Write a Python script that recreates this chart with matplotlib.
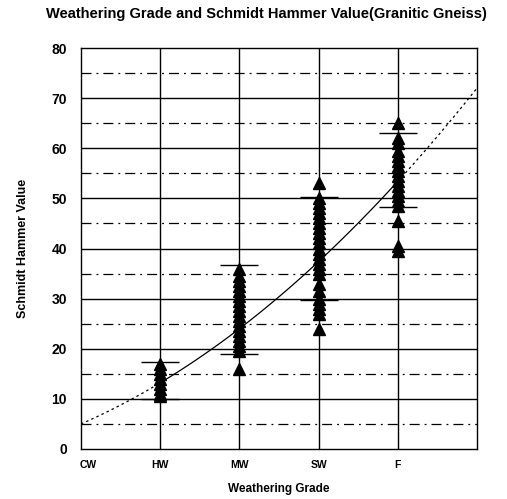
import matplotlib
matplotlib.use("Agg")
import matplotlib.pyplot as plt
import matplotlib.transforms as mtransforms
import numpy as np

plt.rcParams['font.family'] = ['Liberation Sans', 'DejaVu Sans']

# ---- data ----
categories = ["CW", "HW", "MW", "SW", "F"]
hw_values = [17, 16, 15, 14, 13, 12, 11, 10.5]
mw_values = [36, 34.5, 33.5, 32.5, 31.5, 30.5, 29.5, 28.5, 27.5, 26.5, 25.5,
             24.5, 23.5, 22.5, 21.5, 20.5, 19.5, 16]
sw_values = [53, 50, 49, 48, 47, 46, 45, 44, 43, 42, 41, 40, 39, 38, 37, 36,
             35, 33, 31.5, 30, 29, 28, 27, 24]
f_values = [65, 62, 61, 59.5, 58.5, 57.5, 56.5, 55.5, 54.5, 53.5, 52.5, 51.5,
            50.5, 49.5, 48.5, 45.5, 40.5, 39.5]
series_x = [1, 2, 3, 4]
band_upper = [17.3, 36.7, 50.2, 63.0]
band_lower = [10.0, 19.0, 29.8, 48.2]
trend_coef = [1.3, 6.9, 5.0]  # polynomial trendline (x^2, x, const)

fig = plt.figure(figsize=(5.07, 4.99), dpi=100)
ax = fig.add_axes([81/507, 1-449/499, (477-81)/507, (449-48)/499])

ax.set_xlim(0, 5)
ax.set_ylim(0, 80)

# grid
for v in range(10, 80, 10):
    ax.axhline(v, color='black', lw=1.0, zorder=1)
for v in range(5, 80, 10):
    ax.axhline(v, color='black', lw=0.9, ls=(0, (8, 4, 1.5, 4)), zorder=1)
for xv in series_x:
    ax.axvline(xv, color='black', lw=1.0, zorder=1)

# trend line
xs_solid = np.linspace(1, 4, 100)
xs_lo = np.linspace(0, 1, 30)
xs_hi = np.linspace(4, 5, 30)
ax.plot(xs_solid, np.polyval(trend_coef, xs_solid), color='black', lw=0.9, zorder=2)
ax.plot(xs_lo, np.polyval(trend_coef, xs_lo), color='black', lw=0.9, ls=(0, (2, 2.5)), zorder=2)
ax.plot(xs_hi, np.polyval(trend_coef, xs_hi), color='black', lw=0.9, ls=(0, (2, 2.5)), zorder=2)

# points
for xv, vals in zip(series_x, [hw_values, mw_values, sw_values, f_values]):
    ax.plot([xv]*len(vals), vals, ls='none', marker='^', color='black',
            markersize=8, zorder=3)

# range bars
for xv, up, lo in zip(series_x, band_upper, band_lower):
    ax.hlines([up, lo], xv - 0.24, xv + 0.24, color='black', lw=1.0, zorder=3)

ax.set_xticks(range(5))
ax.set_xticklabels(categories)
ax.set_yticks(range(0, 81, 10))
ax.tick_params(axis='both', length=0)
ax.tick_params(axis='y', pad=10, labelsize=10)
ax.tick_params(axis='x', pad=8, labelsize=7.5)
for lab in ax.get_xticklabels() + ax.get_yticklabels():
    lab.set_fontweight('bold')
# CW label sits slightly right of the spine in the reference
cw = ax.get_xticklabels()[0]
cw.set_transform(cw.get_transform() + mtransforms.ScaledTranslation(7/100, 0, fig.dpi_scale_trans))
for sp in ax.spines.values():
    sp.set_linewidth(1.0)

ax.set_xlabel("Weathering Grade", fontsize=8.5, fontweight='bold', labelpad=9)
ax.set_ylabel("Schmidt Hammer Value", fontsize=9, fontweight='bold', labelpad=16)

fig.text(266/507, 1-14/499, "Weathering Grade and Schmidt Hammer Value(Granitic Gneiss)",
         ha='center', va='center', fontsize=10.5, fontweight='bold')

fig.savefig("out.png", dpi=100)
